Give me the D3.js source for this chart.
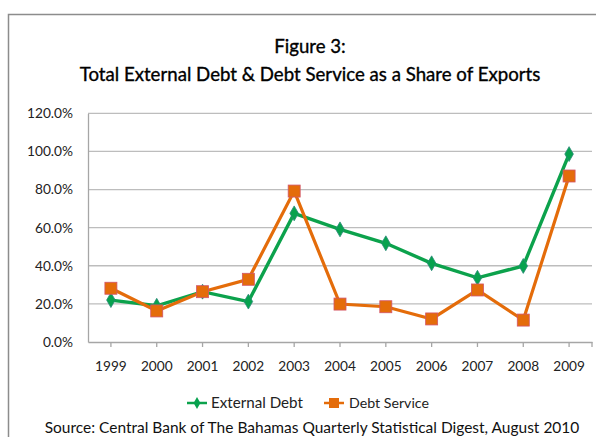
<!DOCTYPE html>
<html>
<head>
<meta charset="utf-8">
<script src="https://cdn.jsdelivr.net/npm/d3@7"></script>
<style>
  body { margin: 0; background: #fff; }
  svg { display: block; font-family: Lato, "Open Sans", sans-serif; }
</style>
</head>
<body>
<div id="chart"></div>
<script>
const width = 596;
const height = 437;

const years = ["1999", "2000", "2001", "2002", "2003", "2004", "2005", "2006", "2007", "2008", "2009"];
const externalDebt = [0.22, 0.19, 0.264, 0.212, 0.675, 0.591, 0.518, 0.413, 0.337, 0.399, 0.986];
const debtService = [0.282, 0.163, 0.264, 0.329, 0.792, 0.199, 0.185, 0.121, 0.273, 0.115, 0.871];
const yTicks = [0, 0.2, 0.4, 0.6, 0.8, 1.0, 1.2];

const green = "#0ca24c";
const orange = "#e46c0a";

const svg = d3.select("#chart")
  .append("svg")
  .attr("width", width)
  .attr("height", height);

// shrink/grow a text so it spans the given width
function fitWidth(sel, target) {
  const base = parseFloat(sel.style("font-size"));
  const w = sel.node().getComputedTextLength();
  const size = base * target / w;
  sel.style("font-size", size + "px");
  return size;
}

// outer frame (runs off the right/bottom edge)
svg.append("rect")
  .attr("x", 8.5).attr("y", 14.5)
  .attr("width", 700).attr("height", 500)
  .attr("fill", "none")
  .attr("stroke", "#8c8c8c")
  .attr("stroke-width", 1.5);

// title
const t1 = svg.append("text")
  .attr("x", 310).attr("y", 53)
  .attr("text-anchor", "middle")
  .style("font-size", "20px")
  .style("fill", "#000")
  .style("stroke", "#000")
  .style("stroke-width", 0.35)
  .text("Figure 3:");

const t2 = svg.append("text")
  .attr("x", 310).attr("y", 81)
  .attr("text-anchor", "middle")
  .style("font-size", "20px")
  .style("fill", "#000")
  .style("stroke", "#000")
  .style("stroke-width", 0.35)
  .text("Total External Debt & Debt Service as a Share of Exports");
const titleSize = fitWidth(t2, 461);
t1.style("font-size", titleSize + "px");

const x = d3.scaleBand().domain(years).range([88, 592]).padding(0);
const cx = d => x(d) + x.bandwidth() / 2;
const y = d3.scaleLinear().domain([0, 1.2]).range([342, 113.3]);

// gridlines
svg.append("g")
  .selectAll("line")
  .data(yTicks.filter(d => d > 0))
  .join("line")
  .attr("x1", 88).attr("x2", 592)
  .attr("y1", d => y(d)).attr("y2", d => y(d))
  .attr("stroke", "#bdbdbd")
  .attr("stroke-width", 1.3);

// y axis
const yAxis = svg.append("g")
  .attr("transform", "translate(88,0)")
  .call(d3.axisLeft(y).tickValues(yTicks).tickFormat(d3.format(".1%")).tickSize(0).tickPadding(15));
yAxis.select(".domain").attr("stroke", "#a6a6a6").attr("stroke-width", 1.3);
yAxis.selectAll("text").style("font-size", "14px").style("fill", "#222").style("font-family", "Lato, sans-serif");
const topLabel = yAxis.selectAll(".tick text").filter(d => d === 1.2);
const ySize = fitWidth(topLabel, 46);
yAxis.selectAll("text").style("font-size", ySize + "px");

// x axis
const xAxis = svg.append("g")
  .attr("transform", "translate(0,342)")
  .call(d3.axisBottom(x).tickSize(5).tickPadding(14).tickSizeOuter(0));
xAxis.select(".domain").attr("stroke", "#a6a6a6").attr("stroke-width", 1.3);
xAxis.selectAll(".tick line").attr("stroke", "#a6a6a6").attr("stroke-width", 1.3);
xAxis.selectAll("text").style("font-size", "14px").style("fill", "#222").style("font-family", "Lato, sans-serif");
const firstYear = xAxis.selectAll(".tick text").filter(d => d === "1999");
const xSize = fitWidth(firstYear, 31.7);
xAxis.selectAll("text").style("font-size", xSize + "px");
xAxis.append("line")
  .attr("x1", 592).attr("x2", 592).attr("y1", 0).attr("y2", 5)
  .attr("stroke", "#a6a6a6").attr("stroke-width", 1.3);

const line = d3.line().x((d, i) => cx(years[i])).y(d => y(d));

const diamond = d3.symbol().type(d3.symbolDiamond).size(64);

// external debt
svg.append("path")
  .datum(externalDebt)
  .attr("d", line)
  .attr("fill", "none")
  .attr("stroke", green)
  .attr("stroke-width", 3.4);
svg.append("g")
  .selectAll("path")
  .data(externalDebt)
  .join("path")
  .attr("d", diamond)
  .attr("transform", (d, i) => `translate(${cx(years[i])},${y(d)})`)
  .attr("fill", "#07a24e")
  .attr("stroke", "#2b8a78")
  .attr("stroke-width", 0.8);

// debt service
svg.append("path")
  .datum(debtService)
  .attr("d", line)
  .attr("fill", "none")
  .attr("stroke", orange)
  .attr("stroke-width", 3.2);
svg.append("g")
  .selectAll("rect")
  .data(debtService)
  .join("rect")
  .attr("x", (d, i) => cx(years[i]) - 6)
  .attr("y", d => y(d) - 6)
  .attr("width", 12).attr("height", 12)
  .attr("fill", orange)
  .attr("stroke", "#d2556a")
  .attr("stroke-width", 0.8);

// legend
const legend = svg.append("g").attr("transform", "translate(0,403)");
legend.append("line")
  .attr("x1", 187).attr("x2", 207).attr("y1", 0).attr("y2", 0)
  .attr("stroke", green).attr("stroke-width", 2.5);
legend.append("path")
  .attr("d", d3.symbol().type(d3.symbolDiamond).size(40))
  .attr("transform", "translate(197,0)")
  .attr("fill", "#07a24e");
const l1 = legend.append("text")
  .attr("x", 211).attr("y", 0).attr("dy", "0.35em")
  .style("font-size", "14px").style("fill", "#222")
  .text("External Debt");
fitWidth(l1, 92);

legend.append("line")
  .attr("x1", 324).attr("x2", 344).attr("y1", 0).attr("y2", 0)
  .attr("stroke", orange).attr("stroke-width", 2.5);
legend.append("rect")
  .attr("x", 329).attr("y", -5).attr("width", 10).attr("height", 10)
  .attr("fill", orange);
const l2 = legend.append("text")
  .attr("x", 349).attr("y", 0).attr("dy", "0.35em")
  .style("font-size", "14px").style("fill", "#222")
  .text("Debt Service");
fitWidth(l2, 80);

// source
const src = svg.append("text")
  .attr("x", 312).attr("y", 428).attr("dy", "0.35em")
  .attr("text-anchor", "middle")
  .style("font-size", "15px")
  .style("fill", "#111")
  .text("Source: Central Bank of The Bahamas Quarterly Statistical Digest, August 2010");
fitWidth(src, 535);
</script>
</body>
</html>
